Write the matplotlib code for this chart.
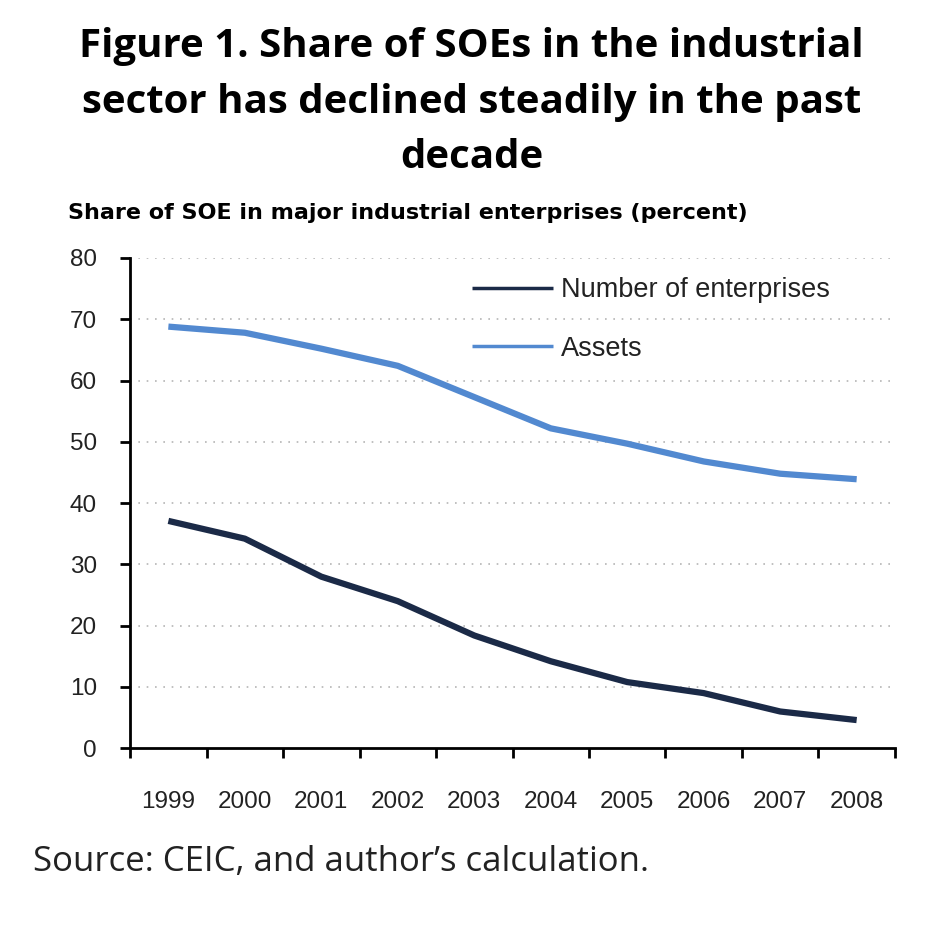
import matplotlib.pyplot as plt
import numpy as np

# data
years = ['1999', '2000', '2001', '2002', '2003', '2004', '2005', '2006', '2007', '2008']
enterprises = [37.1, 34.2, 28.0, 24.0, 18.4, 14.2, 10.8, 9.0, 6.0, 4.6]
assets = [68.8, 67.8, 65.2, 62.4, 57.3, 52.2, 49.7, 46.8, 44.8, 43.9]
y_ticks = [0, 10, 20, 30, 40, 50, 60, 70, 80]
title_lines = ['Figure 1. Share of SOEs in the industrial',
               'sector has declined steadily in the past',
               'decade']

W, H = 943, 933
fig = plt.figure(figsize=(W / 100, H / 100), dpi=100)
ax = fig.add_axes([0.138, 0.198, 0.811, 0.5255])

x = np.arange(len(years))
ax.plot(x, enterprises, color='#1b2a47', linewidth=4.5, solid_capstyle='butt',
        label='Number of enterprises')
ax.plot(x, assets, color='#5289d0', linewidth=4.5, solid_capstyle='butt',
        label='Assets')

ax.set_xlim(-0.5, len(years) - 0.5)
ax.set_ylim(0, 80)
ax.set_yticks(y_ticks)
ax.set_yticklabels([str(v) for v in y_ticks])
for v in y_ticks[1:]:
    ax.axhline(v, color='#b5b5b5', linestyle=(0, (1, 4)), linewidth=1.2, zorder=0)

# category ticks at boundaries, labels in the middle
ax.set_xticks(np.arange(-0.5, len(years), 1.0))
ax.set_xticklabels([])
ax.set_xticks(x, minor=True)
ax.set_xticklabels(years, minor=True)
ax.tick_params(axis='x', which='minor', length=0, pad=31)
ax.tick_params(axis='x', which='major', length=7, width=2, direction='out')
ax.tick_params(axis='y', length=7, width=2, direction='out', pad=17)
for lab in ax.get_xticklabels(minor=True) + ax.get_yticklabels():
    lab.set_fontfamily('Liberation Sans')
    lab.set_fontsize(17.5)
    lab.set_color('#222222')

for s in ['top', 'right']:
    ax.spines[s].set_visible(False)
for s in ['left', 'bottom']:
    ax.spines[s].set_linewidth(2)
    ax.spines[s].set_color('black')

leg = ax.legend(loc='upper left', bbox_to_anchor=(0.415, 1.01), frameon=False,
                handlelength=3.0, handletextpad=0.3, labelspacing=1.2,
                prop={'family': 'Liberation Sans', 'size': 19.5})
for t in leg.get_texts():
    t.set_color('#222222')
for h in leg.get_lines():
    h.set_linewidth(2.5)

for line, yc in zip(title_lines, [47, 103, 157]):
    fig.text(0.5, 1 - yc / H, line, ha='center', va='center', fontsize=29,
             fontweight='bold', family='Open Sans')
fig.text(68 / W, 1 - 213 / H, 'Share of SOE in major industrial enterprises (percent)',
         ha='left', va='center', fontsize=16, fontweight='bold',
         family='DejaVu Sans')
fig.text(33 / W, 1 - 862 / H, 'Source: CEIC, and author\u2019s calculation.',
         ha='left', va='center', fontsize=25, family='Open Sans', color='#222222')

fig.savefig('out.png', dpi=100)
